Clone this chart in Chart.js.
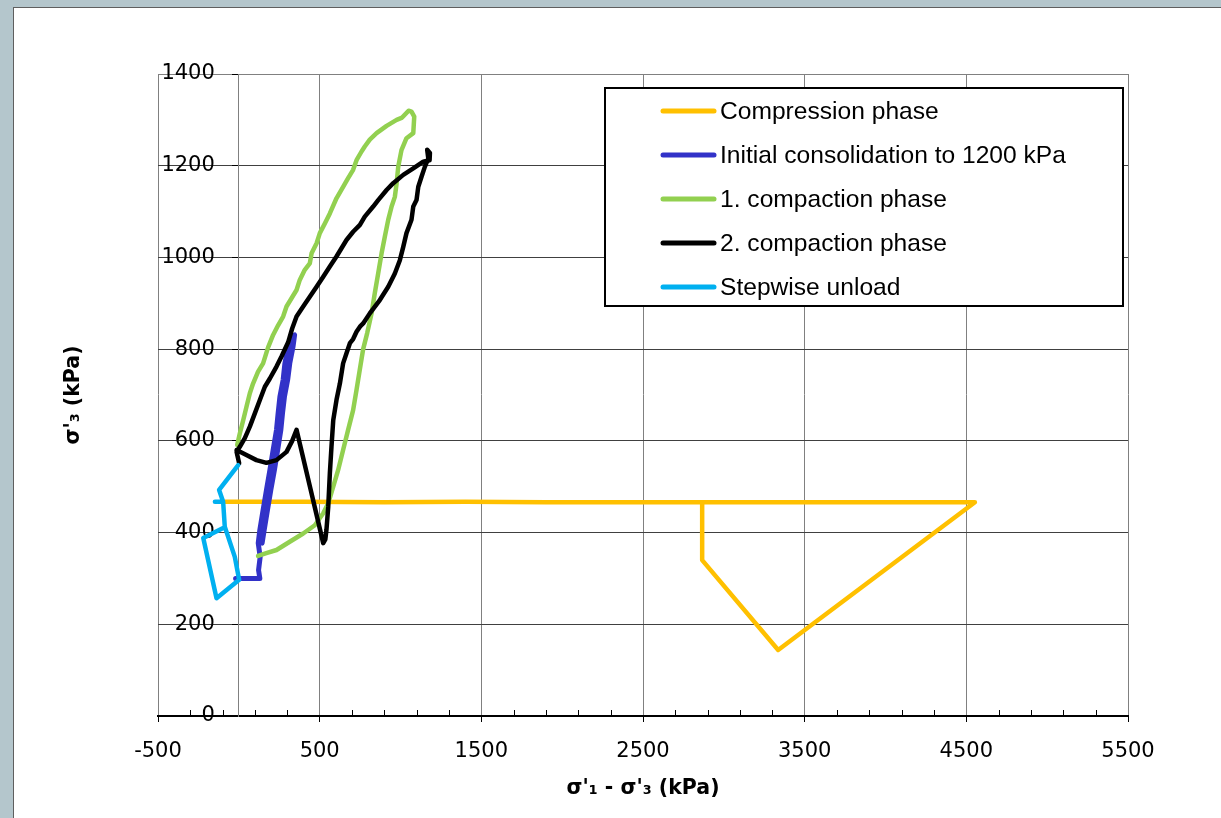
<!DOCTYPE html>
<html>
<head>
<meta charset="utf-8">
<script src="https://cdn.jsdelivr.net/npm/chart.js@4/dist/chart.umd.min.js"></script>
<style>
html,body{margin:0;padding:0;width:1221px;height:818px;overflow:hidden;background:#b4c6cc;}
#panel{position:absolute;left:13px;top:7px;width:1230px;height:830px;background:#fff;border:1px solid #5f5f5f;}
#wrap{position:absolute;left:0;top:0;width:1221px;height:818px;}
</style>
</head>
<body>
<div id="panel"></div>
<div id="wrap"><canvas id="c"></canvas></div>
<script>
// ---------- data ----------
const seriesLabels = ["Compression phase", "Initial consolidation to 1200 kPa", "1. compaction phase", "2. compaction phase", "Stepwise unload"];
const seriesColors = ["#FFC000", "#3232C8", "#92D050", "#000000", "#00B0F0"];

const compressionX = [-87, 400, 900, 1400, 1900, 2400, 2866, 3600, 4553, 3336, 2866, 2866];
const compressionY = [467, 467, 466, 467, 466, 466, 466, 466, 466, 144, 340, 466];

const consolidationX = [-20, 130, 122, 132, 120, 130, 150, 171, 192, 212, 233, 243, 254, 274, 285, 305, 330, 345, 335, 315, 302, 282, 270, 260, 240, 220, 198, 177, 157, 144];
const consolidationY = [300, 300, 318, 347, 377, 406, 449, 493, 536, 580, 624, 660, 696, 733, 769, 805, 828, 831, 805, 769, 733, 696, 660, 624, 580, 536, 493, 449, 406, 377];

const compaction1X = [119, 170, 233, 315, 398, 470, 522, 553, 584, 614, 645, 676, 707, 728, 748, 769, 794, 821, 841, 862, 883, 903, 924, 945, 965, 976, 986, 1006, 1037, 1079, 1085, 1068, 1050, 1010, 976, 914, 852, 810, 779, 759, 728, 707, 676, 645, 604, 563, 532, 501, 481, 450, 439, 408, 377, 357, 326, 295, 274, 243, 212, 181, 150, 119, 88, 68, 47, 27, 6, -10];
const compaction1Y = [349, 355, 362, 380, 398, 416, 442, 464, 500, 536, 580, 624, 667, 711, 755, 800, 835, 878, 922, 965, 1009, 1045, 1082, 1111, 1132, 1162, 1198, 1234, 1260, 1271, 1307, 1318, 1320, 1305, 1300, 1287, 1271, 1257, 1242, 1231, 1212, 1191, 1173, 1154, 1129, 1096, 1074, 1053, 1031, 1009, 987, 973, 951, 929, 911, 893, 871, 852, 831, 804, 769, 751, 725, 704, 674, 645, 616, 591];

const compaction2X = [-14, 47, 109, 171, 233, 295, 330, 357, 440, 522, 535, 542, 553, 563, 573, 584, 604, 625, 645, 666, 687, 707, 728, 749, 769, 810, 872, 924, 965, 996, 1017, 1037, 1068, 1079, 1099, 1110, 1130, 1151, 1172, 1165, 1182, 1180, 1141, 1079, 1017, 955, 914, 862, 831, 779, 749, 707, 666, 635, 604, 563, 522, 481, 439, 398, 357, 330, 305, 264, 233, 192, 161, 130, 99, 68, 37, 6, -14, 2];
const compaction2Y = [580, 569, 558, 552, 558, 576, 600, 624, 500, 377, 385, 406, 456, 529, 587, 645, 689, 725, 769, 791, 813, 822, 838, 849, 856, 878, 907, 936, 965, 994, 1023, 1053, 1082, 1111, 1125, 1154, 1176, 1198, 1216, 1235, 1228, 1212, 1209, 1194, 1180, 1162, 1147, 1125, 1111, 1089, 1071, 1056, 1038, 1020, 1002, 980, 958, 936, 914, 893, 871, 845, 815, 784, 762, 736, 718, 689, 660, 631, 606, 587, 576, 551];

const unloadX = [-4, -122, -97, -148, -97, -87, -25, 2, -138, -220, -97];
const unloadY = [547, 493, 467, 467, 467, 413, 347, 297, 257, 388, 410];

const xTickValues = [-500, 500, 1500, 2500, 3500, 4500, 5500];
const yTickValues = [0, 200, 400, 600, 800, 1000, 1200, 1400];
const xMinorStep = 200;
const xTitle = "σ'₁ - σ'₃ (kPa)";
const yTitle = "σ'₃ (kPa)";

// ---------- build datasets ----------
const seriesX = [compressionX, consolidationX, compaction1X, compaction2X, unloadX];
const seriesY = [compressionY, consolidationY, compaction1Y, compaction2Y, unloadY];
const drawOrder = [5, 4, 3, 2, 1]; // yellow at bottom, light blue on top
const lineWidths = [4.5, 5, 4.5, 4.5, 4.5];

const datasets = seriesLabels.map((lab, i) => ({
  label: lab,
  data: seriesX[i].map((x, k) => ({ x: x, y: seriesY[i][k] })),
  borderColor: seriesColors[i],
  backgroundColor: seriesColors[i],
  borderWidth: lineWidths[i],
  showLine: true,
  pointRadius: 0,
  pointHoverRadius: 0,
  tension: 0,
  borderJoinStyle: 'round',
  borderCapStyle: 'round',
  order: drawOrder[i]
}));

const FONT_TICK = { family: 'DejaVu Sans', size: 21 };
const FONT_TITLE = { family: 'DejaVu Sans', size: 20.5, weight: 'bold' };

// y labels sit left of the y axis that crosses at x = 0
const yLabelPlugin = {
  id: 'yLabelPos',
  beforeDraw(chart) {
    const ys = chart.scales.y, xs = chart.scales.x;
    const x0 = xs.getPixelForValue(0) - 24;
    ys.getLabelItems().forEach(it => {
      it.options.translation[0] = x0;
      it.options.textAlign = 'right';
    });
  }
};

// minor tick marks on the x axis (pointing up, inside)
const minorTickPlugin = {
  id: 'minorTicks',
  afterDraw(chart) {
    const xs = chart.scales.x, ys = chart.scales.y, ctx = chart.ctx;
    const y0 = ys.getPixelForValue(0);
    ctx.save();
    ctx.strokeStyle = '#000';
    ctx.lineWidth = 1;
    ctx.beginPath();
    for (let v = xs.min + xMinorStep; v < xs.max; v += xMinorStep) {
      if (xTickValues.includes(v)) continue;
      const px = Math.round(xs.getPixelForValue(v)) + 0.5;
      ctx.moveTo(px, y0 - 1);
      ctx.lineTo(px, y0 - 6);
    }
    ctx.stroke();
    ctx.restore();
  }
};

// boxed legend inside the plot area (upper right)
const boxLegendPlugin = {
  id: 'boxLegend',
  afterDraw(chart) {
    const ctx = chart.ctx;
    const L = 605, T = 88, R = 1123, B = 306;
    ctx.save();
    ctx.fillStyle = '#fff';
    ctx.fillRect(L, T, R - L, B - T);
    ctx.strokeStyle = '#000';
    ctx.lineWidth = 2;
    ctx.strokeRect(L, T, R - L, B - T);
    ctx.font = '24.6px "Liberation Sans", Arial, sans-serif';
    ctx.textBaseline = 'middle';
    ctx.textAlign = 'left';
    chart.data.datasets.forEach((ds, i) => {
      const y = 111 + i * 44;
      ctx.strokeStyle = ds.borderColor;
      ctx.lineWidth = 5;
      ctx.lineCap = 'round';
      ctx.beginPath();
      ctx.moveTo(663, y);
      ctx.lineTo(714, y);
      ctx.stroke();
      ctx.fillStyle = '#000';
      ctx.fillText(ds.label, 720, y + 1);
    });
    ctx.restore();
  }
};

new Chart(document.getElementById('c'), {
  type: 'scatter',
  data: { datasets: datasets },
  options: {
    responsive: true,
    maintainAspectRatio: false,
    animation: false,
    events: [],
    layout: { padding: { left: 0, top: 74, right: 93, bottom: 0 } },
    plugins: { legend: { display: false }, tooltip: { enabled: false } },
    scales: {
      x: {
        type: 'linear', position: 'bottom', min: -500, max: 5500,
        afterBuildTicks: s => { s.ticks = xTickValues.map(v => ({ value: v })); },
        afterFit: s => { s.height = 102; },
        grid: { color: '#808080', lineWidth: 1, tickLength: 6, tickColor: '#000', drawTicks: true },
        border: { color: '#000', width: 2 },
        ticks: { color: '#000', font: FONT_TICK, padding: 17, maxRotation: 0, autoSkip: false, callback: v => String(v) },
        title: { display: true, text: xTitle, color: '#000', font: FONT_TITLE, padding: { top: 0, bottom: 17 } }
      },
      y: {
        type: 'linear', position: { x: 0 }, min: 0, max: 1400,
        afterBuildTicks: s => { s.ticks = yTickValues.map(v => ({ value: v })); },
        grid: {
          color: c => (c.tick && c.tick.value === 1400) ? '#808080' : '#404040',
          lineWidth: 1, tickLength: 6, tickColor: '#000'
        },
        border: { color: '#808080', width: 1 },
        ticks: { color: '#000', font: FONT_TICK, padding: 18, autoSkip: false, callback: v => String(v) }
      },
      yt: {
        type: 'linear', position: 'left', min: 0, max: 1,
        afterFit: s => { s.width = 158; },
        ticks: { display: false },
        grid: { display: false, drawTicks: false },
        border: { display: false },
        title: { display: true, text: yTitle, color: '#000', font: FONT_TITLE, padding: { top: 61, bottom: 0 } }
      }
    }
  },
  plugins: [yLabelPlugin, minorTickPlugin, boxLegendPlugin]
});
</script>
</body>
</html>
